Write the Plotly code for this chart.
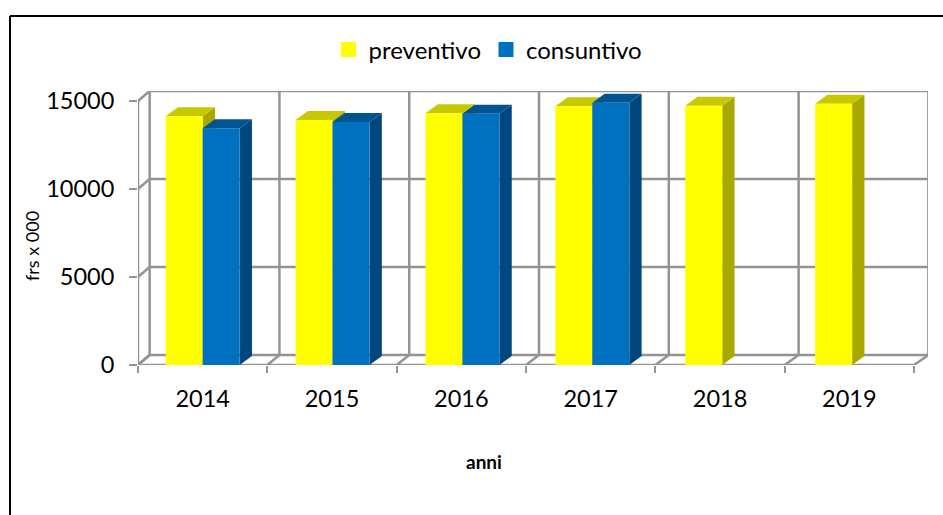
import numpy as np
import plotly.graph_objects as go

anni = ['2014', '2015', '2016', '2017', '2018', '2019']
preventivo = [14130, 13920, 14300, 14700, 14730, 14850]
consuntivo = [13450, 13800, 14270, 14900, None, None]
y_ticks = [0, 5000, 10000, 15000]

W, H = 943, 515
FONT = 'Lato'
GRID = '#939393'

# plot box in pixels
left, right, top, bottom = 138, 928, 91, 365

# fake 3d: how far the back wall and the bar tops are shifted
wall_dy = 568
bar_dx = 0.095
bar_dy = 511
bar_w = 0.286
bar_pitch = 1.0043  # bars drift a little to the right in the original

x_range = [-0.5, 5.608]
y_range = [0, 15568]


def wall_x(b):
    # b is the index of a category boundary, 0..6
    return b - 0.5 + 0.09 + 0.0035 * b


def paper_x(px):
    return (px - left) / (right - left)


def paper_y(px):
    return (bottom - px) / (bottom - top)


def line(x0, y0, x1, y1):
    return dict(type='line', xref='x', yref='y', x0=x0, y0=y0, x1=x1, y1=y1,
                layer='below', line=dict(color=GRID, width=2.5))


shapes = []
# back wall: gridlines and vertical dividers
for v in y_ticks:
    shapes.append(line(wall_x(0), v + wall_dy, wall_x(6), v + wall_dy))
    shapes.append(line(-0.5, v, wall_x(0), v + wall_dy))
for b in range(7):
    shapes.append(line(wall_x(b), wall_dy, wall_x(b), y_ticks[-1] + wall_dy))
    shapes.append(line(b - 0.5, 0, wall_x(b), wall_dy))
# front axes
shapes.append(line(-0.5, 0, 5.5, 0))
shapes.append(line(-0.5, 0, -0.5, y_ticks[-1]))

# chart frame, cut by the window on the right and at the bottom
for x0, y0, x1, y1 in [(10, 16, 10, H), (10, 16, W, 16)]:
    shapes.append(dict(type='line', xref='paper', yref='paper',
                       x0=paper_x(x0), y0=paper_y(y0), x1=paper_x(x1), y1=paper_y(y1),
                       layer='above', line=dict(color='black', width=2)))

fig = go.Figure()


def add_faces(values, x_start, side_color, top_color):
    for i, v in enumerate(values):
        if v is None:
            continue
        x0 = i * bar_pitch + x_start
        x1 = x0 + bar_w
        # side face
        fig.add_trace(go.Scatter(
            x=[x1, x1 + bar_dx, x1 + bar_dx, x1, x1],
            y=[0, bar_dy, v + bar_dy, v, 0],
            mode='lines', fill='toself', fillcolor=side_color,
            line=dict(width=0), hoverinfo='skip', showlegend=False))
        # top face
        fig.add_trace(go.Scatter(
            x=[x0, x0 + bar_dx, x1 + bar_dx, x1, x0],
            y=[v, v + bar_dy, v + bar_dy, v, v],
            mode='lines', fill='toself', fillcolor=top_color,
            line=dict(width=0), hoverinfo='skip', showlegend=False))


add_faces(preventivo, -bar_w, '#A8A800', '#C8C800')
add_faces(consuntivo, 0, '#00467F', '#005490')

bar_x = np.arange(len(anni)) * bar_pitch
fig.add_trace(go.Bar(x=bar_x, y=preventivo, width=bar_w, offset=-bar_w, marker_color='#FFFF00',
                     marker_line_width=0, name='preventivo', showlegend=False,
                     xaxis='x2', yaxis='y2'))
fig.add_trace(go.Bar(x=bar_x, y=consuntivo, width=bar_w, offset=0, marker_color='#0070C0',
                     marker_line_width=0, name='consuntivo', showlegend=False,
                     xaxis='x2', yaxis='y2'))

# legend swatches are bigger than the ones plotly gives to bars
for name, color in [('preventivo', '#FFFF00'), ('consuntivo', '#0070C0')]:
    fig.add_trace(go.Scatter(x=[None], y=[None], mode='markers', name=name,
                             marker=dict(symbol='square', size=15, color=color)))

fig.update_layout(
    width=W, height=H,
    margin=dict(l=left, r=W - right, t=top, b=H - bottom, pad=0),
    paper_bgcolor='white', plot_bgcolor='white',
    font=dict(family=FONT, color='black'),
    barmode='overlay',
    shapes=shapes,
    legend=dict(orientation='h', x=paper_x(488), xanchor='center', y=paper_y(50), yanchor='middle',
                font=dict(size=24), itemwidth=30, bgcolor='rgba(0,0,0,0)'),
    xaxis=dict(range=x_range, tickmode='array', tickvals=list(range(6)), ticktext=anni,
               showgrid=False, zeroline=False, showline=False, ticks='',
               ticklabelstandoff=17, tickfont=dict(size=23.5),
               minor=dict(ticks='outside', tickmode='array', tickvals=[b - 0.5 for b in range(7)],
                          ticklen=7, tickwidth=2, tickcolor=GRID, showgrid=False)),
    yaxis=dict(range=y_range, tickmode='array', tickvals=y_ticks, tickformat='d',
               showgrid=False, zeroline=False, showline=False,
               ticks='outside', ticklen=8, tickwidth=2, tickcolor=GRID,
               ticklabelstandoff=10, tickfont=dict(size=23.5)),
    xaxis2=dict(range=x_range, overlaying='x', visible=False),
    yaxis2=dict(range=y_range, overlaying='y', visible=False),
    annotations=[
        dict(text='frs x 000', xref='paper', yref='paper', x=paper_x(32), y=paper_y(246),
             showarrow=False, textangle=-90, font=dict(size=18), xanchor='center', yanchor='middle'),
        dict(text='<b>anni</b>', xref='paper', yref='paper', x=paper_x(484), y=paper_y(461),
             showarrow=False, font=dict(size=19), xanchor='center', yanchor='middle'),
    ],
)

fig.write_html("out.html", config=dict(displayModeBar=False),
               post_script="document.body.style.margin='0';")
